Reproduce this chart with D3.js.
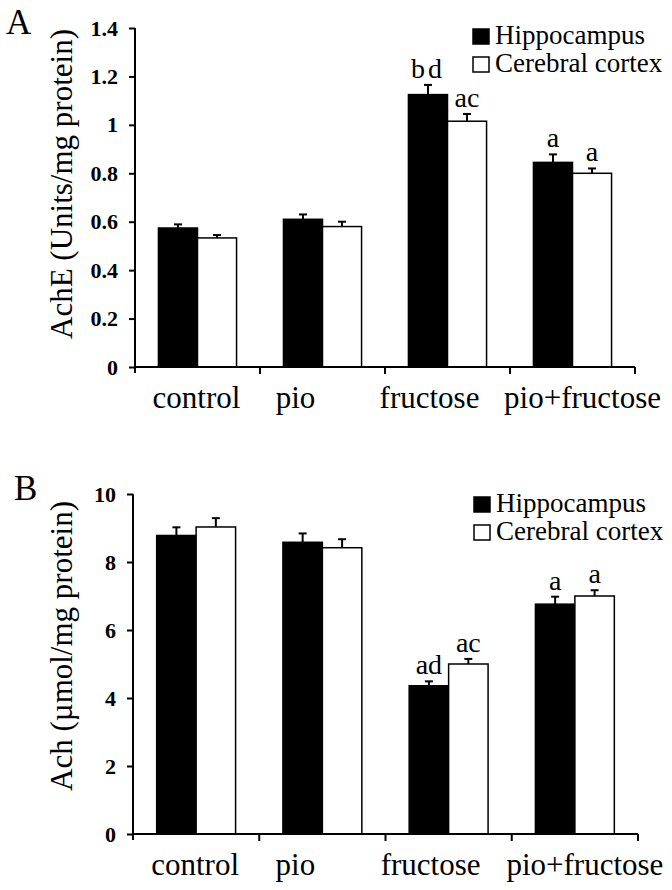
<!DOCTYPE html>
<html><head><meta charset="utf-8">
<script src="https://cdn.jsdelivr.net/npm/d3@7"></script>
<style>body{margin:0;background:#fff}svg{display:block}text{font-family:"Liberation Serif","Times New Roman",serif;fill:#000}</style>
</head><body><svg id="c" width="672" height="890"></svg>
<script>
const categories = ["control","pio","fructose","pio+fructose"];
const series = ["Hippocampus","Cerebral cortex"];
// Panel A: AchE
const achE_hip = [0.574, 0.610, 1.125, 0.845];
const achE_hipErr = [0.015, 0.020, 0.040, 0.033];
const achE_ctx = [0.533, 0.580, 1.015, 0.800];
const achE_ctxErr = [0.012, 0.020, 0.030, 0.020];
const achE_hipSig = ["", "", "bd", "a"];
const achE_ctxSig = ["", "", "ac", "a"];
const achE_ticks = [0, 0.2, 0.4, 0.6, 0.8, 1, 1.2, 1.4];
// Panel B: Ach
const ach_hip = [8.78, 8.58, 4.36, 6.76];
const ach_hipErr = [0.24, 0.26, 0.13, 0.22];
const ach_ctx = [9.03, 8.42, 5.00, 7.00];
const ach_ctxErr = [0.26, 0.25, 0.15, 0.17];
const ach_hipSig = ["", "", "ad", "a"];
const ach_ctxSig = ["", "", "ac", "a"];
const ach_ticks = [0, 2, 4, 6, 8, 10];

const svg = d3.select("#c");
const labelDx = [-1, -27, -18, 10];

function panel(o){
  const g = svg.append("g");
  const x = d3.scaleBand().domain(categories).range([o.x0, o.x1]).padding(0);
  const x1 = d3.scaleBand().domain(series).range([0, x.bandwidth()]).paddingInner(0).paddingOuter(0.6);
  const y = d3.scaleLinear().domain([0, o.max]).range([o.yb, o.yt]);
  const data = categories.map((c,i)=>({c, vals:[
    {s:series[0], v:o.hip[i], e:o.hipErr[i], sig:o.hipSig[i]},
    {s:series[1], v:o.ctx[i], e:o.ctxErr[i], sig:o.ctxSig[i]}]}));
  const grp = g.selectAll("g.grp").data(data).join("g").attr("transform", d=>`translate(${x(d.c)},0)`);
  const item = grp.selectAll("g.it").data(d=>d.vals).join("g");
  item.append("line")
    .attr("x1", d=>x1(d.s)+x1.bandwidth()/2).attr("x2", d=>x1(d.s)+x1.bandwidth()/2)
    .attr("y1", d=>y(d.v)).attr("y2", d=>y(d.v+d.e)).attr("stroke","#000").attr("stroke-width",2);
  item.append("line")
    .attr("x1", d=>x1(d.s)+x1.bandwidth()/2-4).attr("x2", d=>x1(d.s)+x1.bandwidth()/2+4)
    .attr("y1", d=>y(d.v+d.e)).attr("y2", d=>y(d.v+d.e)).attr("stroke","#000").attr("stroke-width",2);
  item.append("rect")
    .attr("x", d=>x1(d.s)).attr("width", x1.bandwidth())
    .attr("y", d=>y(d.v)).attr("height", d=>y(0)-y(d.v))
    .attr("fill", d=>d.s===series[0]?"#000":"#fff").attr("stroke","#000").attr("stroke-width",1.5);
  item.append("text")
    .attr("x", d=>x1(d.s)+x1.bandwidth()/2).attr("y", d=>y(d.v+d.e)-7)
    .attr("text-anchor","middle").attr("font-size",28).attr("letter-spacing", d=>d.sig==="bd"?3:0)
    .text(d=>d.sig);
  // y axis
  const ya = g.append("g").attr("transform",`translate(${o.x0},0)`)
    .call(d3.axisLeft(y).tickValues(o.ticks).tickSize(6).tickPadding(11).tickFormat(d=>String(d)));
  ya.select(".domain").attr("stroke-width",2).attr("d",`M0,${o.yt}V${o.yb+6}`);
  ya.selectAll(".tick line").attr("stroke-width",2);
  ya.selectAll(".tick text").attr("font-family","Liberation Serif").attr("font-size",22).attr("font-weight","bold");
  // x axis
  g.append("line").attr("x1",o.x0).attr("x2",o.x1).attr("y1",o.yb).attr("y2",o.yb).attr("stroke","#000").attr("stroke-width",2);
  const bounds = categories.map(c=>x(c)).concat([o.x1]);
  g.selectAll("line.xt").data(bounds.slice(1)).join("line")
    .attr("x1",d=>d).attr("x2",d=>d).attr("y1",o.yb).attr("y2",o.yb+7).attr("stroke","#000").attr("stroke-width",2);
  g.selectAll("text.xl").data(categories).join("text")
    .attr("x",(d,i)=>x(d)+x.bandwidth()/2+labelDx[i]).attr("y",o.yb+41)
    .attr("text-anchor","middle").attr("font-size",31).text(d=>d);
  // y title
  g.append("text").attr("transform",`translate(${o.tx},${o.ty}) rotate(-90)`)
    .attr("text-anchor","middle").attr("font-size",31).text(o.title);
  // panel letter
  g.append("text").attr("x",o.lx).attr("y",o.ly).attr("font-size",35).text(o.letter);
  // legend
  const lg = g.append("g").attr("transform",`translate(${o.legx},${o.legy})`);
  series.forEach((s,i)=>{
    lg.append("rect").attr("x",0).attr("y",i*28-15).attr("width",16).attr("height",15)
      .attr("fill",i===0?"#000":"#fff").attr("stroke","#000").attr("stroke-width",1.5);
    lg.append("text").attr("x",22).attr("y",i*28).attr("font-size",27).text(s);
  });
}

panel({x0:135,x1:635,yb:367,yt:28,max:1.4,ticks:achE_ticks,hip:achE_hip,hipErr:achE_hipErr,ctx:achE_ctx,ctxErr:achE_ctxErr,
  hipSig:achE_hipSig,ctxSig:achE_ctxSig,title:"AchE (Units/mg protein)",tx:72,ty:184,letter:"A",lx:6,ly:34,legx:473,legy:44});
panel({x0:133,x1:638,yb:834,yt:494,max:10,ticks:ach_ticks,hip:ach_hip,hipErr:ach_hipErr,ctx:ach_ctx,ctxErr:ach_ctxErr,
  hipSig:ach_hipSig,ctxSig:ach_ctxSig,title:"Ach (\u00b5mol/mg protein)",tx:72,ty:646,letter:"B",lx:14,ly:500,legx:474,legy:512});
</script></body></html>
